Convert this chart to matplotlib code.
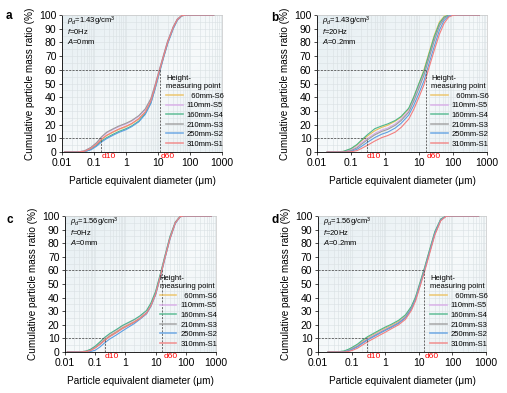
import matplotlib
matplotlib.use("Agg")
import matplotlib.pyplot as plt
import numpy as np

plt.rcParams['font.family'] = ['Liberation Sans', 'DejaVu Sans']
plt.rcParams['mathtext.fontset'] = 'custom'
plt.rcParams['mathtext.rm'] = 'Liberation Sans'
plt.rcParams['mathtext.it'] = 'Liberation Sans:italic'

labels = ['60mm-S6', '110mm-S5', '160mm-S4', '210mm-S3', '250mm-S2', '310mm-S1']
colors = ['#ecc05c', '#d8a9e8', '#4db68a', '#9c9c9c', '#5d9fe2', '#f27f7f']

# panel a: rho_d=1.43, f=0Hz, A=0mm
x_a = [0.012, 0.03, 0.05, 0.08, 0.12, 0.17, 0.25, 0.4, 0.6, 1, 1.5, 2.5, 4, 6, 8, 11, 15, 20, 30, 40, 55, 75, 550]
y_a = [
    [0, 0, 0.5, 2.5, 5.5, 9, 12, 14.5, 16.5, 18.5, 20.5, 24, 29, 37, 47, 59, 70, 80, 91, 96.5, 99.5, 100, 100],
    [0, 0, 0.8, 3.2, 6.5, 10.5, 14, 16.5, 18.5, 20.5, 22.5, 26, 31, 39, 48.5, 60, 71, 81, 91.5, 97, 99.6, 100, 100],
    [0, 0, 0.3, 2, 4.8, 8, 10.5, 13, 15, 17, 19, 22.5, 28, 36, 46, 58, 69.5, 79.5, 90.5, 96.3, 99.4, 100, 100],
    [0, 0, 0.8, 3.4, 6.8, 11, 14.5, 17, 19, 21, 23, 26.5, 31.5, 39, 48.5, 60, 71, 81, 91.5, 97, 99.6, 100, 100],
    [0, 0, 0.2, 1.6, 4.2, 7.2, 9.8, 12.3, 14.3, 16.3, 18.5, 22, 27.5, 35.5, 45.5, 57.5, 69, 79, 90, 96, 99.3, 100, 100],
    [0, 0, 0.5, 2.6, 5.6, 9.2, 12.3, 14.8, 16.8, 18.8, 20.8, 24.3, 29.3, 37.3, 47, 59, 70, 80, 91, 96.5, 99.5, 100, 100],
]
d_a = (0.17, 11.3)

# panel b: rho_d=1.43, f=20Hz, A=0.2mm
x_b = [0.02, 0.04, 0.06, 0.1, 0.15, 0.2, 0.3, 0.5, 0.8, 1.2, 2, 3, 5, 7, 10, 14, 20, 28, 40, 55, 75, 100, 130, 600]
y_b = [
    [0, 0, 0.4, 2.2, 5, 8, 11.5, 15.5, 18, 19.5, 22.5, 25.5, 31.5, 40, 50, 60, 73, 85, 95, 99, 100, 100, 100, 100],
    [0, 0, 0.2, 1.5, 3.8, 6.5, 9.8, 13.5, 16, 17.5, 20.5, 24, 30, 38, 48, 57, 70, 82, 93, 98, 99.8, 100, 100, 100],
    [0, 0, 0.5, 2.5, 5.5, 8.5, 12.5, 17, 19, 20.5, 23, 26, 32, 40, 50, 59, 72, 84, 94, 98.5, 100, 100, 100, 100],
    [0, 0, 0.1, 1, 3, 5.5, 8.8, 12.5, 15, 16.5, 19.5, 23, 29, 37, 46.5, 56, 69, 81, 92, 97.5, 99.6, 100, 100, 100],
    [0, 0, 0, 0.5, 2, 4, 7, 10.5, 13, 14.5, 17.5, 21, 27, 34, 43, 52, 65, 77, 89, 96, 99.2, 100, 100, 100],
    [0, 0, 0, 0.2, 1, 2.5, 4.8, 8, 10.5, 12, 14.5, 18, 24, 31, 40, 49, 62, 74, 86, 94, 98.5, 99.8, 100, 100],
]
d_b = (0.29, 15.8)

# panel c: rho_d=1.56, f=0Hz, A=0mm
x_c = [0.012, 0.03, 0.05, 0.07, 0.1, 0.14, 0.2, 0.3, 0.5, 0.8, 1.2, 2, 3, 5, 7, 10, 14, 20, 30, 45, 65, 85, 700]
y_c = [
    [0, 0, 0.5, 1.5, 3.5, 6, 9, 12, 15, 18, 20, 22.5, 25, 29, 34.5, 43, 55, 69, 84, 95, 99.5, 100, 100],
    [0, 0, 0.6, 1.8, 4, 6.8, 10, 13, 16, 19, 21, 23.5, 26, 30, 35.5, 44, 56, 70, 85, 95.5, 99.6, 100, 100],
    [0, 0, 0.7, 2, 4.3, 7.2, 10.5, 13.5, 16.5, 19.5, 21.5, 24, 26.5, 30.5, 36, 44.5, 56.5, 70, 85, 95.5, 99.6, 100, 100],
    [0, 0, 0.4, 1.3, 3.2, 5.6, 8.5, 11.5, 14.5, 17.5, 19.5, 22, 24.5, 28.5, 34, 42.5, 54.5, 68.5, 83.5, 95, 99.5, 100, 100],
    [0, 0, 0, 0.3, 1.3, 3.5, 6.5, 9.5, 12.5, 15.5, 18, 21, 24, 28, 33.5, 42, 54, 68, 83, 94.5, 99.4, 100, 100],
    [0, 0, 0.3, 1.1, 3, 5.3, 8.2, 11.2, 14.2, 17.2, 19.3, 22, 24.5, 28.5, 34, 42.5, 54.5, 68.5, 83.5, 95, 99.5, 100, 100],
]
d_c = (0.21, 16.5)

# panel d: rho_d=1.56, f=20Hz, A=0.2mm
x_d = [0.02, 0.04, 0.06, 0.08, 0.1, 0.15, 0.2, 0.3, 0.5, 0.7, 1, 1.5, 2.5, 4, 6, 8, 11, 15, 20, 30, 45, 65, 90, 600]
y_d = [
    [0, 0, 0.5, 1.5, 2.5, 5, 7.5, 10.5, 13.5, 15.5, 17.5, 19.5, 22.5, 26.5, 33, 40, 51, 62, 73, 88, 97.5, 100, 100, 100],
    [0, 0, 0.3, 1.2, 2.2, 4.5, 6.8, 9.8, 12.8, 14.8, 16.8, 18.8, 21.8, 26, 32.5, 39.5, 50.5, 61.5, 72.5, 87.5, 97.3, 100, 100, 100],
    [0, 0.2, 0.8, 2, 3.2, 5.8, 8.3, 11.3, 14.3, 16.3, 18.3, 20.3, 23.3, 27.3, 33.5, 40.5, 51.5, 62.5, 73.5, 88.5, 97.8, 100, 100, 100],
    [0, 0, 0.3, 1, 2, 4.2, 6.5, 9.3, 12.3, 14.3, 16.3, 18.5, 21.5, 25.5, 32, 39, 50, 61, 72, 87, 97, 99.9, 100, 100],
    [0, 0, 0.2, 0.8, 1.7, 3.8, 6, 8.8, 11.8, 13.8, 15.8, 18, 21, 25, 31.5, 38.5, 49.5, 60.5, 71.5, 87, 97, 99.9, 100, 100],
    [0, 0, 0, 0.4, 1, 2.8, 4.8, 7.5, 10.5, 12.5, 14.5, 17, 20, 24, 30.5, 37.5, 48.5, 59.5, 70.5, 86, 96.5, 99.8, 100, 100],
]
d_d = (0.28, 14.0)

notes = [
    [r'$\rho_d$=1.43g/cm$^3$', r'$\it{f}$=0Hz', r'$\it{A}$=0mm'],
    [r'$\rho_d$=1.43g/cm$^3$', r'$\it{f}$=20Hz', r'$\it{A}$=0.2mm'],
    [r'$\rho_d$=1.56g/cm$^3$', r'$\it{f}$=0Hz', r'$\it{A}$=0mm'],
    [r'$\rho_d$=1.56g/cm$^3$', r'$\it{f}$=20Hz', r'$\it{A}$=0.2mm'],
]

fig = plt.figure(figsize=(5.07, 3.93), dpi=100)
fig.patch.set_facecolor('white')

rects = [
    [0.1223, 0.6132, 0.3156, 0.3486],
    [0.6252, 0.6132, 0.3353, 0.3486],
    [0.1282, 0.1043, 0.2978, 0.3461],
    [0.6272, 0.1043, 0.3314, 0.3461],
]
letters = ['a', 'b', 'c', 'd']
letter_pos = [(0.012, 0.975), (0.535, 0.97), (0.012, 0.455), (0.535, 0.455)]
panels = [(x_a, y_a, d_a), (x_b, y_b, d_b), (x_c, y_c, d_c), (x_d, y_d, d_d)]

# soft diagonal background
gx, gy = np.meshgrid(np.linspace(0, 1, 200), np.linspace(0, 1, 200))
t = (gx + (1 - gy)) / 2
grad = np.abs(t - 0.55)
cmap = matplotlib.colors.LinearSegmentedColormap.from_list('bg', ['#f7fafb', '#e5eef2'])

for i, (rect, (xs, ys, (d10, d60))) in enumerate(zip(rects, panels)):
    ax = fig.add_axes(rect)
    ax.set_xscale('log')
    ax.imshow(grad, extent=[0, 1, 0, 1], transform=ax.transAxes, aspect='auto',
              cmap=cmap, vmin=0, vmax=0.55, zorder=0, origin='lower')
    ax.set_xlim(0.01, 1000)
    ax.set_ylim(0, 100)
    ax.set_yticks(np.arange(0, 101, 10))
    ax.set_yticks(np.arange(0, 101, 5), minor=True)
    ax.grid(True, which='both', color='#d9e0e3', lw=0.4)
    ax.set_axisbelow(True)

    for ycurve, lab, c in zip(ys, labels, colors):
        ax.plot(xs, ycurve, color=c, lw=0.8, label='  ' + lab if lab.startswith('60') else lab, zorder=3)

    dash = dict(color='#555555', lw=0.6, ls=(0, (2.5, 1.5)), zorder=4)
    ax.plot([0.01, d60], [60, 60], **dash)
    ax.plot([d60, d60], [0, 60], **dash)
    ax.plot([0.01, d10], [10, 10], **dash)
    ax.plot([d10, d10], [0, 10], **dash)
    ax.text(d10, -0.035, 'd10', color='red', fontsize=6, ha='left', va='center',
            transform=ax.get_xaxis_transform())
    ax.text(d60 * 1.08, -0.035, 'd60', color='red', fontsize=6, ha='left', va='center',
            transform=ax.get_xaxis_transform())

    ax.set_xticks([0.01, 0.1, 1, 10, 100, 1000])
    ax.set_xticklabels(['0.01', '0.1', '1', '10', '100', '1000'])
    ax.xaxis.set_minor_formatter(matplotlib.ticker.NullFormatter())
    ax.tick_params(axis='both', which='major', labelsize=7.5, length=2.5, width=0.5, pad=1.5)
    ax.tick_params(axis='both', which='minor', length=0)
    for s in ['top', 'right']:
        ax.spines[s].set_color('#c8c8c8')
        ax.spines[s].set_linewidth(0.5)
    for s in ['left', 'bottom']:
        ax.spines[s].set_linewidth(0.6)

    ax.set_xlabel('Particle equivalent diameter (μm)', fontsize=7.2, labelpad=6)
    ax.set_ylabel('Cumulative particle mass ratio (%)', fontsize=7.2, labelpad=3)

    for line, yy in zip(notes[i], [0.955, 0.88, 0.805]):
        ax.text(0.03, yy, line, transform=ax.transAxes, fontsize=5.5, va='center',
                ha='left', zorder=5)

    leg = ax.legend(title='Height-\nmeasuring point', loc='lower right', frameon=False,
                    fontsize=5.5, title_fontsize=5.5, handlelength=2.2, handletextpad=0.5,
                    labelspacing=0.3, borderaxespad=0.15, alignment='left',
                    bbox_to_anchor=(1.035, 0.0))
    for h in leg.get_lines():
        h.set_linewidth(1.2)
        h.set_alpha(0.8)

    fig.text(letter_pos[i][0], letter_pos[i][1], letters[i], fontsize=8.5,
             fontweight='bold', va='top', ha='left')

fig.savefig('out.png', dpi=100, facecolor='white')
